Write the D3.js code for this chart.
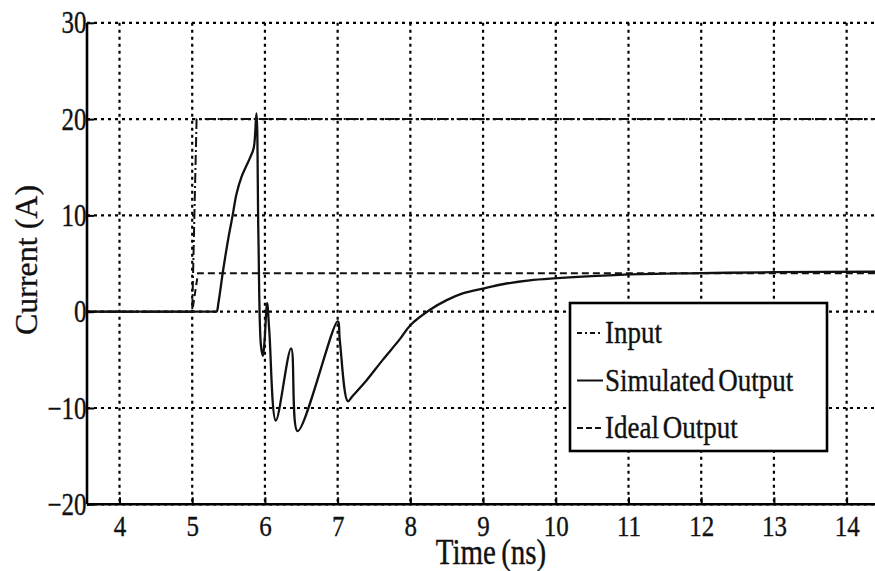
<!DOCTYPE html>
<html><head><meta charset="utf-8">
<script src="https://cdn.jsdelivr.net/npm/d3@7"></script>
<style>body{margin:0;background:#fff}svg{display:block}</style>
</head><body>
<script>
// Data
const xTicks = [4,5,6,7,8,9,10,11,12,13,14];
const yTicks = [-20,-10,0,10,20,30];
const inputT = [3.553, 5.0, 5.06, 14.5];
const inputV = [0, 0, 20, 20];
const idealT = [3.553, 5.0, 5.08, 14.5];
const idealV = [0, 0, 4, 4];
const simT = [3.553, 4.0, 4.5, 5.0, 5.3, 5.336, 5.36, 5.425, 5.494, 5.556, 5.608, 5.678, 5.79, 5.846, 5.883, 5.91, 5.945, 5.972, 5.995, 6.03, 6.06, 6.15, 6.36, 6.45, 7.0, 7.03, 7.14, 7.2, 7.39, 7.62, 7.85, 8.0, 8.27, 8.5, 8.72, 9.0, 9.27, 9.64, 9.97, 10.95, 12.0, 13.0, 14.5];
const simV = [0, 0, 0, 0, 0, 0, 0.9, 4.3, 7.5, 10, 12.2, 14.0, 15.9, 17.0, 20.6, 8, -3.5, -4.6, -3, 0.9, -2, -11.3, -3.8, -12.4, -1.0, -3, -9.3, -8.8, -7.2, -5.0, -2.9, -1.4, 0.2, 1.2, 1.9, 2.4, 2.85, 3.25, 3.45, 3.85, 4.0, 4.1, 4.15];
const legendLabels = ["Input", "Simulated Output", "Ideal Output"];

const W = 875, H = 571;
const svg = d3.select("body").append("svg").attr("width", W).attr("height", H);
const L = 87, R = 875, T = 22.8, B = 504.3;
const x = d3.scaleLinear().domain([3.553, 14.39]).range([L, R]);
const y = d3.scaleLinear().domain([-20, 30]).range([B, T]);
const font = "'Liberation Serif','DejaVu Serif',serif";
const ink = "#111";

// grid
const grid = svg.append("g").attr("stroke", "#000").attr("stroke-width", 2.2).attr("stroke-dasharray", "3,4");
grid.selectAll("line.v").data(xTicks).join("line").attr("class","v")
  .attr("x1", d => x(d)).attr("x2", d => x(d)).attr("y1", T).attr("y2", B);
grid.selectAll("line.h").data(yTicks).join("line").attr("class","h")
  .attr("x1", L).attr("x2", R).attr("y1", d => y(d)).attr("y2", d => y(d));

// lines
const mk = (ts, vs) => ts.map((t,i) => [t, vs[i]]);
const lineLin = d3.line().x(d => x(d[0])).y(d => y(d[1]));
const lineSim = d3.line().x(d => x(d[0])).y(d => y(d[1])).curve(d3.curveCatmullRom.alpha(0.5));
svg.append("clipPath").attr("id","c").append("rect").attr("x",L).attr("y",T-5).attr("width",R-L).attr("height",B-T+5);
const plot = svg.append("g").attr("clip-path","url(#c)");
plot.append("path").datum(mk(inputT, inputV)).attr("d", lineLin).attr("fill","none")
  .attr("stroke",ink).attr("stroke-width",2).attr("stroke-dasharray","10,3,2,3");
plot.append("path").datum(mk(idealT, idealV)).attr("d", lineLin).attr("fill","none")
  .attr("stroke",ink).attr("stroke-width",2).attr("stroke-dasharray","7,4");
plot.append("path").datum(mk(simT, simV)).attr("d", lineSim).attr("fill","none")
  .attr("stroke",ink).attr("stroke-width",2.3).attr("stroke-linejoin","round");

// axes
const xAxis = d3.axisBottom(x).tickValues(xTicks).tickSize(-7).tickFormat(d3.format("d"));
const yAxis = d3.axisLeft(y).tickValues(yTicks).tickSize(-7).tickFormat(d => d < 0 ? "\u2212" + Math.abs(d) : d);
const gx = svg.append("g").attr("transform", `translate(0,${B})`).call(xAxis);
const gy = svg.append("g").attr("transform", `translate(${L},0)`).call(yAxis);
[gx, gy].forEach(g => {
  g.select(".domain").attr("stroke","#000").attr("stroke-width",2.6);
  g.selectAll(".tick line").attr("stroke","#000").attr("stroke-width",2);
  g.selectAll(".tick text").attr("font-family", font).attr("font-size", 25).attr("fill",ink)
    .attr("stroke", ink).attr("stroke-width", 0.3).attr("x", null).attr("y", null).attr("dy", null);
});
gx.selectAll(".tick text").attr("text-anchor","middle").attr("transform","translate(0,32) scale(1,1.2)");
gy.selectAll(".tick text").attr("text-anchor","end").attr("transform","translate(-0.5,10) scale(1,1.25)");
gx.select(".domain").attr("d", `M${L},0H${R}`);
gy.select(".domain").attr("d", `M0,${B}V${T}`);

// axis titles
svg.append("text").attr("transform","translate(491,564) scale(1,1.2)").attr("text-anchor","middle")
  .attr("font-family", font).attr("font-size", 29).attr("fill",ink).attr("stroke",ink).attr("stroke-width",0.3)
  .attr("word-spacing", -2).text("Time (ns)");
svg.append("text").attr("transform","translate(37,260) rotate(-90)").attr("text-anchor","middle")
  .attr("font-family", font).attr("font-size", 32).attr("fill",ink).attr("stroke",ink).attr("stroke-width",0.3)
  .text("Current (A)");

// legend
const lg = svg.append("g");
lg.append("rect").attr("x",570).attr("y",303).attr("width",257).attr("height",148)
  .attr("fill","#fff").attr("stroke","#000").attr("stroke-width",2.6);
const dashes = ["5,3,2,3", null, "6,3"];
legendLabels.forEach((lab, i) => {
  const yy = 343 + i*47.5;
  lg.append("line").attr("x1",577).attr("x2",603).attr("y1",yy-10).attr("y2",yy-10)
    .attr("stroke",ink).attr("stroke-width",2).attr("stroke-dasharray", dashes[i]);
  lg.append("text").attr("transform",`translate(605,${yy}) scale(1,1.2)`).attr("font-family",font).attr("font-size",27)
    .attr("fill",ink).attr("stroke",ink).attr("stroke-width",0.3)
    .attr("word-spacing", -3).text(lab);
});
</script>
</body></html>
